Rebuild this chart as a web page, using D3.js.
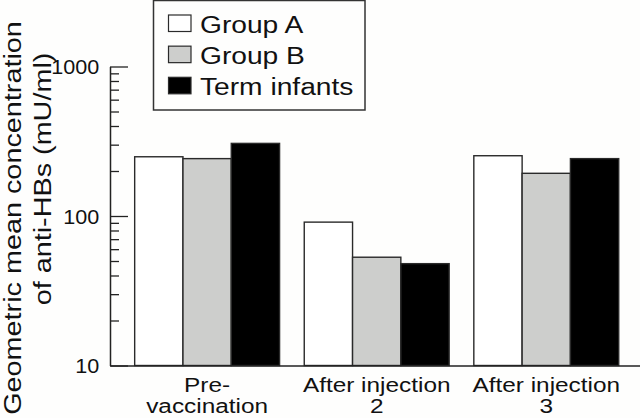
<!DOCTYPE html>
<html>
<head>
<meta charset="utf-8">
<script src="https://cdn.jsdelivr.net/npm/d3@7"></script>
<style>
  html, body { margin: 0; padding: 0; background: #fefefd; }
  svg { display: block; }
  text { font-family: "Liberation Sans", Arial, Helvetica, sans-serif; fill: #111; }
</style>
</head>
<body>
<svg id="chart" width="640" height="418"></svg>
<script>
// ---- data ----
const categories = [["Pre-", "vaccination"], ["After injection", "2"], ["After injection", "3"]];
const seriesNames = ["Group A", "Group B", "Term infants"];
const groupA = [249, 91, 253];
const groupB = [242, 53, 193];
const termInfants = [306, 48, 242];
const majorTicks = [10, 100, 1000];
const minorTicks = [20, 30, 40, 50, 60, 70, 80, 90, 200, 300, 400, 500, 600, 700, 800, 900];
const yTitle = ["Geometric mean concentration", "of anti-HBs (mU/ml)"];

const colors = ["#ffffff", "#cdcecc", "#000000"];
const series = [groupA, groupB, termInfants];

const svg = d3.select("#chart");
const plot = { left: 110, top: 66.5, bottom: 365.5 };

const catKeys = categories.map((c, i) => "c" + i);
const x0 = d3.scaleBand().domain(catKeys).range([plot.left, 643.4]).paddingInner(0.1455).paddingOuter(0.1455);
const x1 = d3.scaleBand().domain(seriesNames).range([0, x0.bandwidth()]).padding(0);
const y = d3.scaleLog().domain([10, 1000]).range([plot.bottom, plot.top]);

// bars
const groups = svg.append("g").selectAll("g").data(catKeys).join("g")
  .attr("transform", d => `translate(${x0(d)},0)`);
groups.selectAll("rect")
  .data((d, i) => seriesNames.map((s, j) => ({ s, j, v: series[j][i] })))
  .join("rect")
  .attr("x", d => x1(d.s))
  .attr("y", d => y(d.v))
  .attr("width", x1.bandwidth())
  .attr("height", d => y(10) - y(d.v))
  .attr("fill", d => colors[d.j])
  .attr("stroke", "#2a2a2a")
  .attr("stroke-width", 1.4);

// y axis: minor ticks
svg.append("g").attr("transform", `translate(${plot.left},0)`)
  .call(d3.axisLeft(y).tickValues(minorTicks).tickSize(-9).tickFormat(""))
  .call(g => g.select(".domain").remove())
  .call(g => g.selectAll("line").attr("stroke", "#222").attr("stroke-width", 1.3));

// y axis: major ticks + labels
svg.append("g").attr("transform", `translate(${plot.left},0)`)
  .call(d3.axisLeft(y).tickValues(majorTicks).tickSize(-18).tickSizeOuter(0).tickPadding(10).tickFormat(d3.format("d")))
  .call(g => g.select(".domain").attr("stroke", "#222").attr("stroke-width", 1.5))
  .call(g => g.selectAll("line").attr("stroke", "#222").attr("stroke-width", 1.3))
  .call(g => g.selectAll("text").attr("font-size", 20).attr("fill", "#111")
    .attr("font-family", "Liberation Sans, Arial, sans-serif")
    .attr("dy", "0.36em").attr("transform", "scale(1.08,1)"));

// x axis
svg.append("g").attr("transform", `translate(0,${plot.bottom})`)
  .call(d3.axisBottom(x0).tickSize(0).tickSizeOuter(0).tickFormat(""))
  .call(g => g.select(".domain").attr("stroke", "#222").attr("stroke-width", 1.5));

// x labels (one text element per category, two lines as tspans)
const xl = svg.append("g").selectAll("g").data(catKeys).join("g")
  .attr("transform", d => `translate(${x0(d) + x0.bandwidth() / 2},391.5) scale(1.25,1)`);
xl.each(function (d, i) {
  const t = d3.select(this).append("text")
    .attr("text-anchor", "middle")
    .attr("font-size", 19.5);
  categories[i].forEach((line, k) => {
    t.append("tspan").attr("x", 0).attr("y", k * 22).text(line);
  });
});

// y title
const yCenters = [218, 179];
const yBase = [21, 51];
const yt = svg.append("g");
yTitle.forEach((line, k) => {
  yt.append("text")
    .attr("transform", `translate(${yBase[k]},${yCenters[k]}) rotate(-90) scale(1.2,1)`)
    .attr("text-anchor", "middle")
    .attr("font-size", 24)
    .text(line);
});

// legend
const leg = svg.append("g");
leg.append("rect").attr("x", 153.5).attr("y", 0.5).attr("width", 211.5).attr("height", 109.5)
  .attr("fill", "#fefefd").attr("stroke", "#333").attr("stroke-width", 1.5);
const rowY = d3.scalePoint().domain(seriesNames).range([15, 77.3]);
seriesNames.forEach((s, j) => {
  leg.append("rect").attr("x", 168.5).attr("y", rowY(s)).attr("width", 22.5).attr("height", 16.5)
    .attr("fill", colors[j]).attr("stroke", "#2a2a2a").attr("stroke-width", 1.2);
  leg.append("text")
    .attr("transform", `translate(200,${rowY(s) + 18}) scale(1.15,1)`)
    .attr("font-size", 24.5)
    .text(s);
});
</script>
</body>
</html>
